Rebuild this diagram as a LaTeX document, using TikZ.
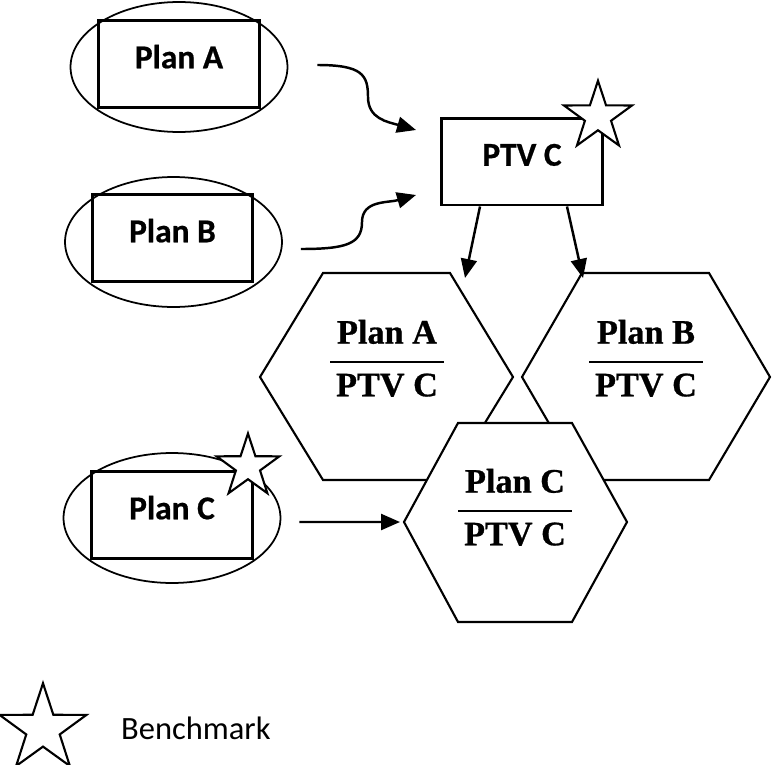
\documentclass[tikz,border=0pt]{standalone}
\usepackage{fontspec}
\setmainfont{Carlito}[BoldFeatures={FakeBold=0.6}]
\newfontfamily\hexserif{Liberation Serif}[BoldFeatures={FakeBold=0.8}]
\usetikzlibrary{shapes.geometric,arrows.meta}

\newcommand\overptv[1]{\setlength\arrayrulewidth{1.2pt}%
  \begin{tabular}{@{\,}c@{\,}}#1\\[3pt]\hline\rule{0pt}{19pt}PTV C\end{tabular}}

\tikzset{
  planbox/.style={draw, line width=1.7pt, minimum width=3.22cm, minimum height=1.74cm,
    inner sep=0pt, text height=0.43cm, text depth=0.26cm,
    font=\bfseries\fontsize{19}{22}\selectfont},
  planell/.style={draw, ellipse, line width=1pt, minimum width=4.34cm,
    minimum height=2.6cm, inner sep=0pt},
  benchstar/.style={draw, fill=white, star, star points=5, star point ratio=2.6,
    line width=1.2pt, inner sep=0pt, minimum size=#1},
  hexline/.style={draw, fill=white, line width=1.2pt, line join=miter},
  ratio/.style={inner sep=0pt, font=\hexserif\bfseries\fontsize{19.5}{22.6}\selectfont},
  flow/.style={line width=1.4pt, -{Triangle[length=0.38cm,width=0.32cm]}}
}

\begin{document}
\begin{tikzpicture}[x=0.02cm, y=-0.02cm]
    \useasboundingbox (0,0) rectangle (784,764);

    % plans on the left
    \node[planell] (ellA) at (179,67) {};
    \node[planbox] (boxA) at (179,64) {Plan A};
    \node[planell] (ellB) at (173.5,242) {};
    \node[planbox] (boxB) at (172.5,238) {Plan B};
    \node[planell] (ellC) at (172,518) {};
    \node[planbox] (boxC) at (172,515) {Plan C};
    \node[benchstar=1.32cm] (starC) at ([xshift=-0.12cm,yshift=0.07cm]boxC.north east) {};

    % target structure
    \node[planbox] (ptv) at (522,161.5) {PTV C};
    \node[benchstar=1.43cm] (starP) at ([xshift=-0.12cm]ptv.north east) {};

    % hexagons
    \draw[hexline] (260,377) -- (323,273) -- (450,273) coordinate (hexAne)
        -- (513,377) -- (450,480) -- (323,480) -- cycle;
    \draw[hexline] (522,377) -- (582,273) coordinate (hexBnw) -- (709,273)
        -- (770,377) -- (709,480) -- (582,480) -- cycle;
    \draw[hexline] (404,522) coordinate (hexCw) -- (458,423) -- (572,423)
        -- (627,522) -- (572,622) -- (458,622) -- cycle;
    \node[ratio] (fracA) at (387,362) {\overptv{Plan A}};
    \node[ratio] (fracB) at (646,362) {\overptv{Plan B}};
    \node[ratio] (fracC) at (515,511) {\overptv{Plan C}};

    % arrows
    \draw[flow] ([xshift=0.58cm,yshift=0.04cm]ellA.east) .. controls +(45,0) and +(0,-22) .. (368,97)
        .. controls +(0,22) and +(-28,-8) .. ([xshift=-0.48cm,yshift=0.63cm]ptv.west);
    \draw[flow] ([xshift=0.36cm,yshift=-0.14cm]ellB.east) .. controls +(45,0) and +(0,22) .. (362,222)
        .. controls +(0,-22) and +(-28,8) .. ([xshift=-0.48cm,yshift=-0.67cm]ptv.west);
    \draw[flow] ([xshift=-0.84cm]ptv.south) -- ([xshift=0.3cm,yshift=-0.1cm]hexAne);
    \draw[flow] ([xshift=0.9cm]ptv.south) -- ([xshift=0.02cm,yshift=-0.1cm]hexBnw);
    \draw[flow] ([xshift=0.36cm,yshift=-0.08cm]ellC.east) -- ([xshift=-0.08cm]hexCw);

    % legend
    \node[benchstar=1.83cm] (legstar) at (43,729) {};
    \node[anchor=base west, font=\fontsize{18.5}{22}\selectfont] (legtext) at (115,739) {Benchmark};
\end{tikzpicture}
\end{document}
